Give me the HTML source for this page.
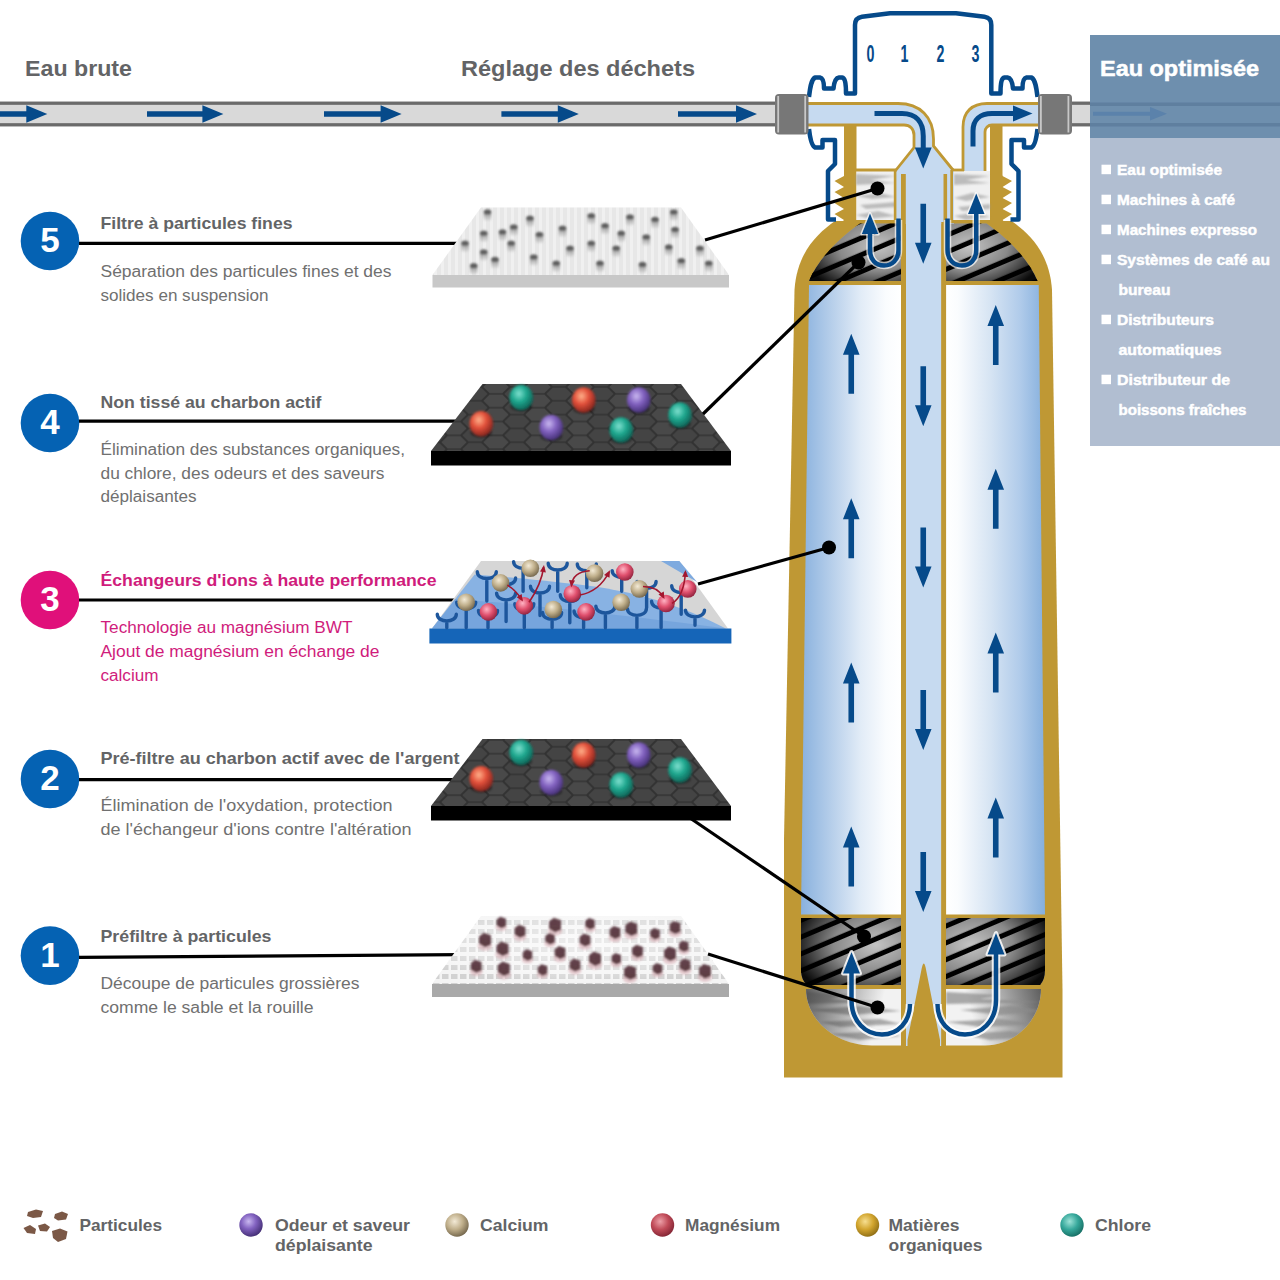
<!DOCTYPE html>
<html><head><meta charset="utf-8">
<style>
html,body{margin:0;padding:0;background:#fff;}
body{width:1280px;height:1280px;overflow:hidden;position:relative;font-family:"Liberation Sans",sans-serif;}
svg{position:absolute;left:0;top:0;}
.hd{font-weight:bold;fill:#636466;}
.ds{fill:#707070;}
.mg{fill:#d01c7c;}
.mgt{fill:#d01c7c;}
</style></head><body>
<svg width="1280" height="1280" viewBox="0 0 1280 1280" font-family="Liberation Sans, sans-serif">
<defs>
  <linearGradient id="chL" x1="0" x2="1" y1="0" y2="0">
    <stop offset="0" stop-color="#89b1de"/><stop offset="0.35" stop-color="#bdd3ec"/><stop offset="0.6" stop-color="#e2ecf7"/><stop offset="0.85" stop-color="#fafcfe"/><stop offset="1" stop-color="#ffffff"/>
  </linearGradient>
  <linearGradient id="chR" x1="0" x2="1" y1="0" y2="0">
    <stop offset="0" stop-color="#ffffff"/><stop offset="0.12" stop-color="#fafcfe"/><stop offset="0.45" stop-color="#d6e4f3"/><stop offset="0.75" stop-color="#b0cbea"/><stop offset="1" stop-color="#85afdd"/>
  </linearGradient>
</defs>

<!-- top labels -->
<text class="hd" x="25" y="76" font-size="22" textLength="107" lengthAdjust="spacingAndGlyphs">Eau brute</text>
<text class="hd" x="461" y="76" font-size="22" textLength="234" lengthAdjust="spacingAndGlyphs">Réglage des déchets</text>
<!-- inlet pipe -->
<rect x="-5" y="103.2" width="785" height="21.6" fill="#d9d9d9" stroke="#6b6b6b" stroke-width="3.3"/>
<rect x="1060" y="103.2" width="240" height="21.6" fill="#d9d9d9" stroke="#6b6b6b" stroke-width="3.3"/>
<g fill="#064a8a">
<path d="M-40 111.2H26.299999999999997V105.3L47.3 114L26.299999999999997 122.7V116.8H-40Z"/>
<path d="M147 111.2H202.4V105.3L223.4 114L202.4 122.7V116.8H147Z"/>
<path d="M324 111.2H380.6V105.3L401.6 114L380.6 122.7V116.8H324Z"/>
<path d="M501.4 111.2H557.8V105.3L578.8 114L557.8 122.7V116.8H501.4Z"/>
<path d="M678 111.2H736V105.3L757 114L736 122.7V116.8H678Z"/>
</g>
<!-- right panel -->
<rect x="1090" y="35" width="190" height="103" fill="#6e8fae" fill-opacity="1"/>
<rect x="1090" y="102.5" width="190" height="3.5" fill="#5f7f9f"/>
<rect x="1090" y="123" width="190" height="3.5" fill="#5f7f9f"/>
<path d="M1093 111.8H1150V107L1167 113.8L1150 120.5V115.8H1093Z" fill="#5b82ab"/>
<rect x="1090" y="138" width="190" height="308" fill="#b1bed1"/>
<text x="1100" y="76" font-size="22" font-weight="bold" fill="#fff" stroke="#fff" stroke-width="0.5" textLength="159" lengthAdjust="spacingAndGlyphs">Eau optimisée</text>
<rect x="1101.5" y="164.7" width="9.5" height="9.5" fill="#fff"/>
<text x="1117" y="174.7" font-size="14.5" font-weight="bold" fill="#fff" stroke="#fff" stroke-width="0.45" textLength="105" lengthAdjust="spacingAndGlyphs">Eau optimisée</text>
<rect x="1101.5" y="194.7" width="9.5" height="9.5" fill="#fff"/>
<text x="1117" y="204.7" font-size="14.5" font-weight="bold" fill="#fff" stroke="#fff" stroke-width="0.45" textLength="118" lengthAdjust="spacingAndGlyphs">Machines à café</text>
<rect x="1101.5" y="224.7" width="9.5" height="9.5" fill="#fff"/>
<text x="1117" y="234.7" font-size="14.5" font-weight="bold" fill="#fff" stroke="#fff" stroke-width="0.45" textLength="140" lengthAdjust="spacingAndGlyphs">Machines expresso</text>
<rect x="1101.5" y="254.7" width="9.5" height="9.5" fill="#fff"/>
<text x="1117" y="264.7" font-size="14.5" font-weight="bold" fill="#fff" stroke="#fff" stroke-width="0.45" textLength="153" lengthAdjust="spacingAndGlyphs">Systèmes de café au</text>
<text x="1118.5" y="294.7" font-size="14.5" font-weight="bold" fill="#fff" stroke="#fff" stroke-width="0.45" textLength="52" lengthAdjust="spacingAndGlyphs">bureau</text>
<rect x="1101.5" y="314.7" width="9.5" height="9.5" fill="#fff"/>
<text x="1117" y="324.7" font-size="14.5" font-weight="bold" fill="#fff" stroke="#fff" stroke-width="0.45" textLength="97" lengthAdjust="spacingAndGlyphs">Distributeurs</text>
<text x="1118.5" y="354.7" font-size="14.5" font-weight="bold" fill="#fff" stroke="#fff" stroke-width="0.45" textLength="103" lengthAdjust="spacingAndGlyphs">automatiques</text>
<rect x="1101.5" y="374.7" width="9.5" height="9.5" fill="#fff"/>
<text x="1117" y="384.7" font-size="14.5" font-weight="bold" fill="#fff" stroke="#fff" stroke-width="0.45" textLength="113" lengthAdjust="spacingAndGlyphs">Distributeur de</text>
<text x="1118.5" y="414.7" font-size="14.5" font-weight="bold" fill="#fff" stroke="#fff" stroke-width="0.45" textLength="128" lengthAdjust="spacingAndGlyphs">boissons fraîches</text>
<!-- items -->
<circle cx="50" cy="241" r="29.3" fill="#0562b3"/>
<text x="50" y="252.0" font-size="35" font-weight="bold" fill="#fff" text-anchor="middle">5</text>
<text class="hd" x="100.5" y="229.4" font-size="17" textLength="192" lengthAdjust="spacingAndGlyphs">Filtre à particules fines</text>
<line x1="79" y1="243.4" x2="460" y2="243.4" stroke="#000" stroke-width="3.2"/>
<text class="ds" x="100.5" y="277" font-size="16" textLength="291" lengthAdjust="spacingAndGlyphs">Séparation des particules fines et des</text>
<text class="ds" x="100.5" y="300.6" font-size="16" textLength="168" lengthAdjust="spacingAndGlyphs">solides en suspension</text>
<circle cx="50" cy="423" r="29.3" fill="#0562b3"/>
<text x="50" y="434.0" font-size="35" font-weight="bold" fill="#fff" text-anchor="middle">4</text>
<text class="hd" x="100.5" y="407.5" font-size="17" textLength="221" lengthAdjust="spacingAndGlyphs">Non tissé au charbon actif</text>
<line x1="79" y1="421.2" x2="460" y2="421.2" stroke="#000" stroke-width="3.2"/>
<text class="ds" x="100.5" y="455" font-size="16" textLength="304.5" lengthAdjust="spacingAndGlyphs">Élimination des substances organiques,</text>
<text class="ds" x="100.5" y="478.5" font-size="16" textLength="284" lengthAdjust="spacingAndGlyphs">du chlore, des odeurs et des saveurs</text>
<text class="ds" x="100.5" y="502" font-size="16" textLength="96" lengthAdjust="spacingAndGlyphs">déplaisantes</text>
<circle cx="50" cy="600" r="29.3" fill="#e0107a"/>
<text x="50" y="611.0" font-size="35" font-weight="bold" fill="#fff" text-anchor="middle">3</text>
<text class="hd mgt" x="100.5" y="585.6" font-size="17" textLength="336" lengthAdjust="spacingAndGlyphs">Échangeurs d'ions à haute performance</text>
<line x1="79" y1="600" x2="460" y2="600" stroke="#000" stroke-width="3.2"/>
<text class="mg" x="100.5" y="633" font-size="16" textLength="252" lengthAdjust="spacingAndGlyphs">Technologie au magnésium BWT</text>
<text class="mg" x="100.5" y="657" font-size="16" textLength="279" lengthAdjust="spacingAndGlyphs">Ajout de magnésium en échange de</text>
<text class="mg" x="100.5" y="680.5" font-size="16" textLength="58" lengthAdjust="spacingAndGlyphs">calcium</text>
<circle cx="50" cy="779" r="29.3" fill="#0562b3"/>
<text x="50" y="790.0" font-size="35" font-weight="bold" fill="#fff" text-anchor="middle">2</text>
<text class="hd" x="100.5" y="763.7" font-size="17" textLength="359" lengthAdjust="spacingAndGlyphs">Pré-filtre au charbon actif avec de l'argent</text>
<line x1="79" y1="779.6" x2="460" y2="779.6" stroke="#000" stroke-width="3.2"/>
<text class="ds" x="100.5" y="811" font-size="16" textLength="292" lengthAdjust="spacingAndGlyphs">Élimination de l'oxydation, protection</text>
<text class="ds" x="100.5" y="835" font-size="16" textLength="311" lengthAdjust="spacingAndGlyphs">de l'échangeur d'ions contre l'altération</text>
<circle cx="50" cy="955.6" r="29.3" fill="#0562b3"/>
<text x="50" y="966.6" font-size="35" font-weight="bold" fill="#fff" text-anchor="middle">1</text>
<text class="hd" x="100.5" y="942" font-size="17" textLength="171" lengthAdjust="spacingAndGlyphs">Préfiltre à particules</text>
<line x1="79" y1="957.3" x2="460" y2="954.6" stroke="#000" stroke-width="3.2"/>
<text class="ds" x="100.5" y="988.9" font-size="16" textLength="259" lengthAdjust="spacingAndGlyphs">Découpe de particules grossières</text>
<text class="ds" x="100.5" y="1012.5" font-size="16" textLength="213" lengthAdjust="spacingAndGlyphs">comme le sable et la rouille</text>
<!-- /items --><!-- ===== FILTER ===== -->
<defs>
  <pattern id="stripes" patternUnits="userSpaceOnUse" width="15.5" height="15.5" patternTransform="rotate(-23)">
    <rect width="15.5" height="15.5" fill="#000"/>
    <rect y="0" width="15.5" height="10.5" fill="#c4c4c4"/>
  </pattern>
  <radialGradient id="blkShade" cx="0.5" cy="0.5" r="0.6">
    <stop offset="0" stop-color="#000" stop-opacity="0"/>
    <stop offset="0.6" stop-color="#000" stop-opacity="0.25"/>
    <stop offset="1" stop-color="#000" stop-opacity="0.85"/>
  </radialGradient>
  <radialGradient id="blkShL" cx="0.75" cy="0.4" r="0.85">
    <stop offset="0" stop-color="#000" stop-opacity="0"/>
    <stop offset="0.5" stop-color="#000" stop-opacity="0.3"/>
    <stop offset="1" stop-color="#000" stop-opacity="0.95"/>
  </radialGradient>
  <radialGradient id="blkShR" cx="0.25" cy="0.4" r="0.85">
    <stop offset="0" stop-color="#000" stop-opacity="0"/>
    <stop offset="0.5" stop-color="#000" stop-opacity="0.3"/>
    <stop offset="1" stop-color="#000" stop-opacity="0.95"/>
  </radialGradient>
  <filter id="fblur" x="-20%" y="-50%" width="140%" height="200%"><feGaussianBlur stdDeviation="1.3"/></filter>
  <linearGradient id="fibShL" gradientUnits="userSpaceOnUse" x1="806" y1="989" x2="880" y2="1010"><stop offset="0" stop-color="#444" stop-opacity="0.85"/><stop offset="1" stop-color="#444" stop-opacity="0"/></linearGradient>
  <linearGradient id="fibShR" gradientUnits="userSpaceOnUse" x1="1041" y1="989" x2="970" y2="1010"><stop offset="0" stop-color="#444" stop-opacity="0.85"/><stop offset="1" stop-color="#444" stop-opacity="0"/></linearGradient>
  <linearGradient id="fibH" x1="0" x2="0" y1="0" y2="1">
    <stop offset="0" stop-color="#d8d8d8"/><stop offset="0.5" stop-color="#f2f2f2"/><stop offset="1" stop-color="#d0d0d0"/>
  </linearGradient>
</defs>
<!-- gold neck walls -->
<rect x="844" y="125" width="12.5" height="100" fill="#bf9834"/>
<rect x="990" y="125" width="12.5" height="100" fill="#bf9834"/>
<!-- threads -->
<path d="M845 174 L844 176 L834.5 181 L844 187 L834.5 192 L844 198 L834.5 203 L844 209 L834.5 214 L844 220 L842 222 L845 222Z" fill="#bf9834"/>
<path d="M1001.5 174 L1002.5 176 L1012.0 181 L1002.5 187 L1012.0 192 L1002.5 198 L1012.0 203 L1002.5 209 L1012.0 214 L1002.5 220 L1004.5 222 L1001.5 222Z" fill="#bf9834"/>
<!-- body silhouette -->
<path d="M835 221 C818 233 797 252 794.5 290 L784 840 L784 1077.5 L1062.5 1077.5 L1062.5 990 L1052 290 C1049.5 252 1028.5 233 1011.5 221 Z" fill="#bf9834"/>
<!-- fibrous top -->
<rect x="856.5" y="171" width="39.5" height="50" fill="#f0f0f0"/>
<rect x="953.5" y="171" width="36.5" height="50" fill="#f0f0f0"/>
<g fill="#9a9a9a" filter="url(#fblur)" opacity="0.6">
<path d="M856 174 L896 176 L870 180 L896 183 L856 185Z"/>
<path d="M856 196 L880 193 L896 197 L872 199Z"/>
<path d="M860 205 L896 202 L896 207 L866 209Z"/>
<path d="M856 215 L878 211 L896 216 L870 219Z"/>
<path d="M954 174 L990 176 L966 180 L990 183 L954 185Z"/>
<path d="M954 198 L972 193 L990 197 L966 201Z"/>
<path d="M958 207 L990 204 L990 209 L962 211Z"/>
<path d="M954 216 L976 212 L990 217 L966 220Z"/>
</g>
<!-- central top light blue -->
<rect x="896" y="168" width="58" height="56" fill="#c6daf0"/>
<!-- black top sections -->
<path d="M860 223.5 H901 V281 H809 C818 258 842 236 860 223.5Z" fill="url(#stripes)"/>
<path d="M860 223.5 H901 V281 H809 C818 258 842 236 860 223.5Z" fill="url(#blkShL)"/>
<path d="M946 223.5 H986.5 C1004.5 236 1028.5 258 1037.5 281 H946Z" fill="url(#stripes)"/>
<path d="M946 223.5 H986.5 C1004.5 236 1028.5 258 1037.5 281 H946Z" fill="url(#blkShR)"/>
<!-- chambers -->
<path d="M809 285 H901 V914.5 H801 Z" fill="url(#chL)"/>
<path d="M946 285 H1038.75 L1045 914.5 H946 Z" fill="url(#chR)"/>
<!-- central tube -->
<rect x="906" y="222" width="35.5" height="824" fill="#c6daf0"/>
<rect x="901" y="174" width="4.8" height="872" fill="#bf9834"/>
<rect x="941.3" y="222" width="4.8" height="824" fill="#bf9834"/>
<rect x="943.5" y="174" width="3.6" height="50" fill="#bf9834"/>
<rect x="893.8" y="169" width="2.6" height="54" fill="#bf9834"/>
<rect x="950.3" y="169" width="2.7" height="54" fill="#bf9834"/>
<!-- bottom black -->
<path d="M801 918 H901 V985 H807 Q801 980 801 970Z" fill="url(#stripes)"/>
<path d="M801 918 H901 V985 H807 Q801 980 801 970Z" fill="url(#blkShL)"/>
<path d="M946 918 H1045 V970 Q1045 980 1040 985 H946Z" fill="url(#stripes)"/>
<path d="M946 918 H1045 V970 Q1045 980 1040 985 H946Z" fill="url(#blkShR)"/>
<!-- bottom fibrous -->
<clipPath id="fibBL"><path d="M806 989 H901 V1045.5 H872 C836 1045.5 806 1020 806 989Z"/></clipPath>
<clipPath id="fibBR"><path d="M946 989 H1041 C1041 1020 1015 1045.5 985 1045.5 H946Z"/></clipPath>
<path d="M806 989 H901 V1045.5 H872 C836 1045.5 806 1020 806 989Z" fill="#f2f2f2"/>
<path d="M946 989 H1041 C1041 1020 1015 1045.5 985 1045.5 H946Z" fill="#f2f2f2"/>
<g fill="#8a8a8a" filter="url(#fblur)" opacity="0.7" clip-path="url(#fibBL)">
<path d="M800 991 L850 995 L830 999 L880 1002 L800 1004Z"/>
<path d="M810 1010 L860 1006 L901 1011 L850 1015Z"/>
<path d="M820 1022 L880 1019 L901 1024 L840 1027Z"/>
<path d="M830 1034 L880 1031 L901 1036 L860 1040Z"/>
</g>
<path d="M806 989 H901 V1045.5 H872 C836 1045.5 806 1020 806 989Z" fill="url(#fibShL)"/>
<path d="M946 989 H1041 C1041 1020 1015 1045.5 985 1045.5 H946Z" fill="url(#fibShR)"/>
<g fill="#8a8a8a" filter="url(#fblur)" opacity="0.7" clip-path="url(#fibBR)">
<path d="M946 992 L1000 995 L980 999 L1045 1002 L946 1004Z"/>
<path d="M960 1010 L1010 1006 L1045 1011 L1000 1015Z"/>
<path d="M946 1022 L1000 1019 L1040 1024 L980 1027Z"/>
<path d="M960 1034 L1010 1031 L1040 1036 L990 1040Z"/>
</g>
<!-- spike -->
<path d="M907.5 1046 V1040 L921 972 Q923.75 955 926.5 972 L940 1040 V1046Z" fill="#bf9834"/>

<!-- left channel -->
<path d="M806 103.5 H898 C920 103.5 933.5 117 933.5 139 V146 L953 170 H896 L914 147.5 V135 C914 129 910 125 904 125 H806Z" fill="#c6daf0"/>
<path d="M806 103.5 H898 C920 103.5 933.5 117 933.5 139 V146 L953 170 M896 170 L914 147.5 V135 C914 129 910 125 904 125 H806" fill="none" stroke="#bf9834" stroke-width="2.8"/>
<line x1="856" y1="170" x2="897" y2="170" stroke="#bf9834" stroke-width="2.8"/>
<line x1="952" y1="170" x2="964" y2="170" stroke="#bf9834" stroke-width="2.8"/>
<line x1="856" y1="221.5" x2="901" y2="221.5" stroke="#bf9834" stroke-width="3"/>
<line x1="946" y1="221.5" x2="990" y2="221.5" stroke="#bf9834" stroke-width="3"/>
<!-- right channel -->
<path d="M1040 103.5 H987 C972 103.5 963 112 963 127 V171 H985 V132 C985 128 988 125 992 125 H1040Z" fill="#c6daf0"/>
<path d="M1040 103.5 H987 C972 103.5 963 112 963 127 V171 M985 171 V132 C985 128 988 125 992 125 H1040" fill="none" stroke="#bf9834" stroke-width="2.8"/>

<!-- navy cap -->
<path d="M809 97 C810 88 811 80 815 77.5 H820 C823 78 824 83 824 88.5 H833.5 C834 83 835 78 839 77.5 H842 C845 78 846 83 846 93.5 H855 V25 Q855 17.8 862 16.8 L890 13.2 H956 L984.5 16.8 Q991.3 17.8 991.3 25 V93.5 H1000.5 C1000.5 83 1001.5 78 1004.5 77.5 H1007.5 C1011.5 78 1012.5 83 1013 88.5 H1022.5 C1022.5 83 1023.5 78 1026.5 77.5 H1031.5 C1035.5 80 1036.5 88 1037.5 97" fill="none" stroke="#064a8a" stroke-width="4.5" stroke-linejoin="round"/>
<path d="M809 129 C810 138 812 146 815 147.5 H822.5 V140 H835 V164 L828 171 V219.5 H836" fill="none" stroke="#064a8a" stroke-width="4.5" stroke-linejoin="round"/>
<path d="M1037.5 129 C1036.5 138 1034.5 146 1031.5 147.5 H1024 V140 H1011.5 V164 L1018.5 171 V219.5 H1010.5" fill="none" stroke="#064a8a" stroke-width="4.5" stroke-linejoin="round"/>
<g fill="#064a8a" font-size="23" font-weight="bold" font-family="Liberation Sans, sans-serif">
<text transform="translate(866.5 61.5) scale(0.62 1)">0</text>
<text transform="translate(900.5 61.5) scale(0.62 1)">1</text>
<text transform="translate(936.5 61.5) scale(0.62 1)">2</text>
<text transform="translate(971.5 61.5) scale(0.62 1)">3</text>
</g>
<!-- fittings -->
<rect x="775" y="94" width="33.5" height="40.5" rx="4" fill="#777"/>
<rect x="777.3" y="96" width="1.8" height="36.5" fill="#c8c8c8"/>
<rect x="804.3" y="96" width="1.8" height="36.5" fill="#c8c8c8"/>
<rect x="1038" y="94" width="34" height="40.5" rx="4" fill="#777"/>
<rect x="1040" y="96" width="1.8" height="36.5" fill="#c8c8c8"/>
<rect x="1067.5" y="96" width="1.8" height="36.5" fill="#c8c8c8"/>
<!-- arrows -->
<g fill="#064a8a">
<path d="M851.25 333.75 L859.55 354.75 H854.05 V393.75 H848.45 V354.75 H842.95 Z"/>
<path d="M851.25 498.25 L859.55 519.25 H854.05 V558.25 H848.45 V519.25 H842.95 Z"/>
<path d="M851.25 662.5 L859.55 683.5 H854.05 V722.5 H848.45 V683.5 H842.95 Z"/>
<path d="M851.25 826.5 L859.55 847.5 H854.05 V886.5 H848.45 V847.5 H842.95 Z"/>
<path d="M995.75 305 L1004.05 326 H998.55 V365 H992.95 V326 H987.45 Z"/>
<path d="M995.75 468.75 L1004.05 489.75 H998.55 V528.75 H992.95 V489.75 H987.45 Z"/>
<path d="M995.75 632.5 L1004.05 653.5 H998.55 V692.5 H992.95 V653.5 H987.45 Z"/>
<path d="M995.75 797.5 L1004.05 818.5 H998.55 V857.5 H992.95 V818.5 H987.45 Z"/>
<path d="M923.25 263.75 L931.55 242.75 H926.05 V203.75 H920.45 V242.75 H914.95 Z"/>
<path d="M923.25 426.25 L931.55 405.25 H926.05 V366.25 H920.45 V405.25 H914.95 Z"/>
<path d="M923.25 587.5 L931.55 566.5 H926.05 V527.5 H920.45 V566.5 H914.95 Z"/>
<path d="M923.25 750 L931.55 729 H926.05 V690 H920.45 V729 H914.95 Z"/>
<path d="M923.25 912 L931.55 891 H926.05 V852 H920.45 V891 H914.95 Z"/>
</g>
<path d="M874.5 113.5 H902 C916 113.5 923.25 122 923.25 136 V150" fill="none" stroke="#064a8a" stroke-width="5"/>
<path d="M914.8 147.5 H931.7 L923.25 168.5Z" fill="#064a8a"/>
<path d="M973 146.5 V131 C973 120 980 113.5 992 113.5 H1015" fill="none" stroke="#064a8a" stroke-width="5"/>
<path d="M1013 105.5 V121.5 L1032.5 113.5Z" fill="#064a8a"/>
<path d="M870 231 V250 C870 260 876 265.5 884 265.5 C892 265.5 898.5 260 898.5 250 V220" fill="none" stroke="#fff" stroke-opacity="0.7" stroke-width="7.5"/>
<path d="M976.25 211 V250 C976.25 260 970 265.5 962 265.5 C954 265.5 947.5 260 947.5 250 V220" fill="none" stroke="#fff" stroke-opacity="0.7" stroke-width="7.5"/>
<path d="M861.8 234 H878.3 L870 213.5Z" fill="#fff" stroke="#fff" stroke-opacity="0.7" stroke-width="3" stroke-linejoin="round"/>
<path d="M968 214 H984.5 L976.25 193.5Z" fill="#fff" stroke="#fff" stroke-opacity="0.7" stroke-width="3" stroke-linejoin="round"/>
<path d="M870 231 V250 C870 260 876 265.5 884 265.5 C892 265.5 898.5 260 898.5 250 V218.5" fill="none" stroke="#064a8a" stroke-width="4.5"/>
<path d="M861.8 234 H878.3 L870 213.5Z" fill="#064a8a"/>
<path d="M976.25 211 V250 C976.25 260 970 265.5 962 265.5 C954 265.5 947.5 260 947.5 250 V218.5" fill="none" stroke="#064a8a" stroke-width="4.5"/>
<path d="M968 214 H984.5 L976.25 193.5Z" fill="#064a8a"/>
<path d="M851.5 970 V1000 C851.5 1022 866 1034.5 882 1034.5 C898 1034.5 910 1022 910 1004" fill="none" stroke="#fff" stroke-opacity="0.85" stroke-width="8.5"/>
<path d="M996 951 V1000 C996 1022 981 1034.5 965 1034.5 C949 1034.5 937.5 1022 937.5 1004" fill="none" stroke="#fff" stroke-opacity="0.85" stroke-width="8.5"/>
<path d="M843 973.5 H860 L851.5 952Z" fill="#fff" stroke="#fff" stroke-opacity="0.85" stroke-width="4" stroke-linejoin="round"/>
<path d="M987.5 954.5 H1004.5 L996 933Z" fill="#fff" stroke="#fff" stroke-opacity="0.85" stroke-width="4" stroke-linejoin="round"/>
<path d="M851.5 970 V1000 C851.5 1022 866 1034.5 882 1034.5 C898 1034.5 910 1022 910 1004" fill="none" stroke="#064a8a" stroke-width="4.5"/>
<path d="M996 951 V1000 C996 1022 981 1034.5 965 1034.5 C949 1034.5 937.5 1022 937.5 1004" fill="none" stroke="#064a8a" stroke-width="4.5"/>
<path d="M843 973.5 H860 L851.5 952Z" fill="#064a8a"/>
<path d="M987.5 954.5 H1004.5 L996 933Z" fill="#064a8a"/>
<!-- ===== MEDIA ===== -->
<defs>
<linearGradient id="m5top" x1="0" x2="0" y1="0" y2="1"><stop offset="0" stop-color="#e6e6e6"/><stop offset="1" stop-color="#d9d9d9"/></linearGradient>
<pattern id="ridge" patternUnits="userSpaceOnUse" width="7" height="10"><rect width="7" height="10" fill="#e3e3e3"/><rect x="0" width="3" height="10" fill="#eeeeee"/></pattern>
<linearGradient id="pfade" x1="0" x2="0" y1="0" y2="1"><stop offset="0" stop-color="#6a6a6a" stop-opacity="0.9"/><stop offset="1" stop-color="#9a9a9a" stop-opacity="0.15"/></linearGradient>
<pattern id="hex" patternUnits="userSpaceOnUse" width="30" height="17.3" patternTransform="translate(440 380) scale(1.4 0.8)">
 <rect width="30" height="17.3" fill="#3a3a3a"/>
 <path d="M1 8.65 L5.5 1 H14.5 L19 8.65 L14.5 16.3 H5.5Z" fill="#545454"/>
 <path d="M16 -0.0 L20.5 -7.65 H29.5 L34 0 L29.5 7.65 H20.5Z" fill="#4e4e4e"/>
 <path d="M16 17.3 L20.5 9.65 H29.5 L34 17.3 L29.5 24.95 H20.5Z" fill="#4e4e4e"/>
 <path d="M-14 0 L-9.5 -7.65 H-0.5 L4 0 L-0.5 7.65 H-9.5Z" fill="#4e4e4e"/>
 <path d="M-14 17.3 L-9.5 9.65 H-0.5 L4 17.3 L-0.5 24.95 H-9.5Z" fill="#4e4e4e"/>
</pattern>
<pattern id="grid" patternUnits="userSpaceOnUse" width="9" height="9"><rect width="9" height="9" fill="#f4f4f4"/><rect x="1" y="2" width="6.5" height="5" fill="#d2d2d2"/></pattern>
<radialGradient id="sTeal" cx="0.4" cy="0.35" r="0.7"><stop offset="0" stop-color="#7fe0cf"/><stop offset="0.45" stop-color="#1fa88f"/><stop offset="1" stop-color="#0b5a4f"/></radialGradient>
<radialGradient id="sRed" cx="0.4" cy="0.35" r="0.7"><stop offset="0" stop-color="#ffb08a"/><stop offset="0.45" stop-color="#e2503a"/><stop offset="1" stop-color="#7a1f1a"/></radialGradient>
<radialGradient id="sPur" cx="0.4" cy="0.35" r="0.7"><stop offset="0" stop-color="#c9b8f0"/><stop offset="0.45" stop-color="#8262c0"/><stop offset="1" stop-color="#3e2a6e"/></radialGradient>
<radialGradient id="sTan" cx="0.4" cy="0.35" r="0.7"><stop offset="0" stop-color="#f3ead6"/><stop offset="0.5" stop-color="#bfae8a"/><stop offset="1" stop-color="#6e6148"/></radialGradient>
<radialGradient id="sPink" cx="0.4" cy="0.35" r="0.7"><stop offset="0" stop-color="#ffb3c3"/><stop offset="0.5" stop-color="#e0506e"/><stop offset="1" stop-color="#8a1f3a"/></radialGradient>
<radialGradient id="sGold" cx="0.4" cy="0.35" r="0.7"><stop offset="0" stop-color="#f7df90"/><stop offset="0.5" stop-color="#d2a52e"/><stop offset="1" stop-color="#8a6a14"/></radialGradient>
<radialGradient id="m1glow" cx="0.5" cy="0.4" r="0.6"><stop offset="0" stop-color="#fff" stop-opacity="0.6"/><stop offset="0.7" stop-color="#fff" stop-opacity="0.3"/><stop offset="1" stop-color="#fff" stop-opacity="0"/></radialGradient>
<filter id="blur1" x="-50%" y="-50%" width="200%" height="200%"><feGaussianBlur stdDeviation="1.1"/></filter>
<filter id="blur08" x="-50%" y="-50%" width="200%" height="200%"><feGaussianBlur stdDeviation="0.9"/></filter>
<filter id="blur05" x="-50%" y="-50%" width="200%" height="200%"><feGaussianBlur stdDeviation="0.6"/></filter>
</defs>
<path d="M481 207.5 H681 L729 275 H432.5Z" fill="url(#ridge)"/>
<path d="M481 207.5 H681 L729 275 H432.5Z" fill="#fff" fill-opacity="0.15"/>
<rect x="432.5" y="275" width="296.5" height="12.5" fill="#c8c8c8"/>
<g filter="url(#blur1)">
<rect x="483.7" y="210.75" width="7.6" height="10" rx="2" fill="url(#pfade)"/><ellipse cx="487.5" cy="211.75" rx="3.8" ry="2.6" fill="#505050" fill-opacity="0.8"/>
<rect x="526.2" y="217" width="7.6" height="10" rx="2" fill="url(#pfade)"/><ellipse cx="530" cy="218" rx="3.8" ry="2.6" fill="#505050" fill-opacity="0.8"/>
<rect x="587.45" y="214.5" width="7.6" height="10" rx="2" fill="url(#pfade)"/><ellipse cx="591.25" cy="215.5" rx="3.8" ry="2.6" fill="#505050" fill-opacity="0.8"/>
<rect x="626.2" y="215.75" width="7.6" height="10" rx="2" fill="url(#pfade)"/><ellipse cx="630" cy="216.75" rx="3.8" ry="2.6" fill="#505050" fill-opacity="0.8"/>
<rect x="669.95" y="210.75" width="7.6" height="10" rx="2" fill="url(#pfade)"/><ellipse cx="673.75" cy="211.75" rx="3.8" ry="2.6" fill="#505050" fill-opacity="0.8"/>
<rect x="479.95" y="232" width="7.6" height="10" rx="2" fill="url(#pfade)"/><ellipse cx="483.75" cy="233" rx="3.8" ry="2.6" fill="#505050" fill-opacity="0.8"/>
<rect x="498.7" y="230.75" width="7.6" height="10" rx="2" fill="url(#pfade)"/><ellipse cx="502.5" cy="231.75" rx="3.8" ry="2.6" fill="#505050" fill-opacity="0.8"/>
<rect x="509.95" y="225.75" width="7.6" height="10" rx="2" fill="url(#pfade)"/><ellipse cx="513.75" cy="226.75" rx="3.8" ry="2.6" fill="#505050" fill-opacity="0.8"/>
<rect x="535.7" y="233.25" width="7.6" height="10" rx="2" fill="url(#pfade)"/><ellipse cx="539.5" cy="234.25" rx="3.8" ry="2.6" fill="#505050" fill-opacity="0.8"/>
<rect x="558.7" y="227" width="7.6" height="10" rx="2" fill="url(#pfade)"/><ellipse cx="562.5" cy="228" rx="3.8" ry="2.6" fill="#505050" fill-opacity="0.8"/>
<rect x="601.2" y="224.5" width="7.6" height="10" rx="2" fill="url(#pfade)"/><ellipse cx="605" cy="225.5" rx="3.8" ry="2.6" fill="#505050" fill-opacity="0.8"/>
<rect x="617.45" y="232" width="7.6" height="10" rx="2" fill="url(#pfade)"/><ellipse cx="621.25" cy="233" rx="3.8" ry="2.6" fill="#505050" fill-opacity="0.8"/>
<rect x="651.2" y="218.25" width="7.6" height="10" rx="2" fill="url(#pfade)"/><ellipse cx="655" cy="219.25" rx="3.8" ry="2.6" fill="#505050" fill-opacity="0.8"/>
<rect x="671.2" y="228.25" width="7.6" height="10" rx="2" fill="url(#pfade)"/><ellipse cx="675" cy="229.25" rx="3.8" ry="2.6" fill="#505050" fill-opacity="0.8"/>
<rect x="461.2" y="242" width="7.6" height="10" rx="2" fill="url(#pfade)"/><ellipse cx="465" cy="243" rx="3.8" ry="2.6" fill="#505050" fill-opacity="0.8"/>
<rect x="507.45" y="242" width="7.6" height="10" rx="2" fill="url(#pfade)"/><ellipse cx="511.25" cy="243" rx="3.8" ry="2.6" fill="#505050" fill-opacity="0.8"/>
<rect x="566.2" y="247" width="7.6" height="10" rx="2" fill="url(#pfade)"/><ellipse cx="570" cy="248" rx="3.8" ry="2.6" fill="#505050" fill-opacity="0.8"/>
<rect x="587.45" y="242" width="7.6" height="10" rx="2" fill="url(#pfade)"/><ellipse cx="591.25" cy="243" rx="3.8" ry="2.6" fill="#505050" fill-opacity="0.8"/>
<rect x="612.45" y="247" width="7.6" height="10" rx="2" fill="url(#pfade)"/><ellipse cx="616.25" cy="248" rx="3.8" ry="2.6" fill="#505050" fill-opacity="0.8"/>
<rect x="642.45" y="235.75" width="7.6" height="10" rx="2" fill="url(#pfade)"/><ellipse cx="646.25" cy="236.75" rx="3.8" ry="2.6" fill="#505050" fill-opacity="0.8"/>
<rect x="664.95" y="245.75" width="7.6" height="10" rx="2" fill="url(#pfade)"/><ellipse cx="668.75" cy="246.75" rx="3.8" ry="2.6" fill="#505050" fill-opacity="0.8"/>
<rect x="696.2" y="247" width="7.6" height="10" rx="2" fill="url(#pfade)"/><ellipse cx="700" cy="248" rx="3.8" ry="2.6" fill="#505050" fill-opacity="0.8"/>
<rect x="479.95" y="250.75" width="7.6" height="10" rx="2" fill="url(#pfade)"/><ellipse cx="483.75" cy="251.75" rx="3.8" ry="2.6" fill="#505050" fill-opacity="0.8"/>
<rect x="491.2" y="258.25" width="7.6" height="10" rx="2" fill="url(#pfade)"/><ellipse cx="495" cy="259.25" rx="3.8" ry="2.6" fill="#505050" fill-opacity="0.8"/>
<rect x="529.95" y="255.75" width="7.6" height="10" rx="2" fill="url(#pfade)"/><ellipse cx="533.75" cy="256.75" rx="3.8" ry="2.6" fill="#505050" fill-opacity="0.8"/>
<rect x="552.45" y="262" width="7.6" height="10" rx="2" fill="url(#pfade)"/><ellipse cx="556.25" cy="263" rx="3.8" ry="2.6" fill="#505050" fill-opacity="0.8"/>
<rect x="596.2" y="262" width="7.6" height="10" rx="2" fill="url(#pfade)"/><ellipse cx="600" cy="263" rx="3.8" ry="2.6" fill="#505050" fill-opacity="0.8"/>
<rect x="638.7" y="263.25" width="7.6" height="10" rx="2" fill="url(#pfade)"/><ellipse cx="642.5" cy="264.25" rx="3.8" ry="2.6" fill="#505050" fill-opacity="0.8"/>
<rect x="677.45" y="259.5" width="7.6" height="10" rx="2" fill="url(#pfade)"/><ellipse cx="681.25" cy="260.5" rx="3.8" ry="2.6" fill="#505050" fill-opacity="0.8"/>
<rect x="704.95" y="262" width="7.6" height="10" rx="2" fill="url(#pfade)"/><ellipse cx="708.75" cy="263" rx="3.8" ry="2.6" fill="#505050" fill-opacity="0.8"/>
<rect x="469.95" y="264.5" width="7.6" height="10" rx="2" fill="url(#pfade)"/><ellipse cx="473.75" cy="265.5" rx="3.8" ry="2.6" fill="#505050" fill-opacity="0.8"/>
</g>
<path d="M482.5 384 H681 L731 451 H431Z" fill="url(#hex)"/>
<path d="M482.5 384 H681 L731 451 H431Z" fill="#000" fill-opacity="0.12"/>
<rect x="431" y="451" width="300" height="14.5" fill="#000"/>
<ellipse cx="521.25" cy="406.5" rx="11" ry="5" fill="#000" fill-opacity="0.35" filter="url(#blur1)"/>
<ellipse cx="521.25" cy="397.5" rx="11.8" ry="12.8" fill="url(#sTeal)" filter="url(#blur08)"/>
<ellipse cx="583.75" cy="409" rx="11" ry="5" fill="#000" fill-opacity="0.35" filter="url(#blur1)"/>
<ellipse cx="583.75" cy="400" rx="11.8" ry="12.8" fill="url(#sRed)" filter="url(#blur08)"/>
<ellipse cx="638.75" cy="409" rx="11" ry="5" fill="#000" fill-opacity="0.35" filter="url(#blur1)"/>
<ellipse cx="638.75" cy="400" rx="11.8" ry="12.8" fill="url(#sPur)" filter="url(#blur08)"/>
<ellipse cx="481.25" cy="432.75" rx="11" ry="5" fill="#000" fill-opacity="0.35" filter="url(#blur1)"/>
<ellipse cx="481.25" cy="423.75" rx="11.8" ry="12.8" fill="url(#sRed)" filter="url(#blur08)"/>
<ellipse cx="551.25" cy="436.5" rx="11" ry="5" fill="#000" fill-opacity="0.35" filter="url(#blur1)"/>
<ellipse cx="551.25" cy="427.5" rx="11.8" ry="12.8" fill="url(#sPur)" filter="url(#blur08)"/>
<ellipse cx="621.25" cy="439" rx="11" ry="5" fill="#000" fill-opacity="0.35" filter="url(#blur1)"/>
<ellipse cx="621.25" cy="430" rx="11.8" ry="12.8" fill="url(#sTeal)" filter="url(#blur08)"/>
<ellipse cx="680" cy="424" rx="11" ry="5" fill="#000" fill-opacity="0.35" filter="url(#blur1)"/>
<ellipse cx="680" cy="415" rx="11.8" ry="12.8" fill="url(#sTeal)" filter="url(#blur08)"/>
<path d="M482.5 739 H681 L731 806 H431Z" fill="url(#hex)"/>
<path d="M482.5 739 H681 L731 806 H431Z" fill="#000" fill-opacity="0.12"/>
<rect x="431" y="806" width="300" height="14.5" fill="#000"/>
<ellipse cx="521.25" cy="761.5" rx="11" ry="5" fill="#000" fill-opacity="0.35" filter="url(#blur1)"/>
<ellipse cx="521.25" cy="752.5" rx="11.8" ry="12.8" fill="url(#sTeal)" filter="url(#blur08)"/>
<ellipse cx="583.75" cy="764" rx="11" ry="5" fill="#000" fill-opacity="0.35" filter="url(#blur1)"/>
<ellipse cx="583.75" cy="755" rx="11.8" ry="12.8" fill="url(#sRed)" filter="url(#blur08)"/>
<ellipse cx="638.75" cy="764" rx="11" ry="5" fill="#000" fill-opacity="0.35" filter="url(#blur1)"/>
<ellipse cx="638.75" cy="755" rx="11.8" ry="12.8" fill="url(#sPur)" filter="url(#blur08)"/>
<ellipse cx="481.25" cy="787.75" rx="11" ry="5" fill="#000" fill-opacity="0.35" filter="url(#blur1)"/>
<ellipse cx="481.25" cy="778.75" rx="11.8" ry="12.8" fill="url(#sRed)" filter="url(#blur08)"/>
<ellipse cx="551.25" cy="791.5" rx="11" ry="5" fill="#000" fill-opacity="0.35" filter="url(#blur1)"/>
<ellipse cx="551.25" cy="782.5" rx="11.8" ry="12.8" fill="url(#sPur)" filter="url(#blur08)"/>
<ellipse cx="621.25" cy="794" rx="11" ry="5" fill="#000" fill-opacity="0.35" filter="url(#blur1)"/>
<ellipse cx="621.25" cy="785" rx="11.8" ry="12.8" fill="url(#sTeal)" filter="url(#blur08)"/>
<ellipse cx="680" cy="779" rx="11" ry="5" fill="#000" fill-opacity="0.35" filter="url(#blur1)"/>
<ellipse cx="680" cy="770" rx="11.8" ry="12.8" fill="url(#sTeal)" filter="url(#blur08)"/>
<path d="M481 561 H679.3 L728 628.5 H432Z" fill="#d6d6d6"/>
<path d="M432 628.5 L474.6 574.4 C520 578 560 582 594.5 586.5 C630 592 650 598 667 603.4 C690 611 710 620 726 628.5Z" fill="#88b2e3"/>
<path d="M432 628.5 L455 599 C520 604 600 612 726 628.5Z" fill="#6b9dd8" fill-opacity="0.6"/>
<path d="M661 561 H679.3 L697 582Z" fill="#7eaadf"/>
<rect x="429.4" y="628.5" width="302" height="15" fill="#1565b8"/>
<path d="M446.8 627.7 V621.2 M437.3 614.2 C437.3 623.2 456.3 623.2 456.3 614.2" fill="none" stroke="#1d569c" stroke-width="3.4" stroke-linecap="round"/>
<path d="M466.2 627.7 V609.1 M456.7 602.1 C456.7 611.1 475.7 611.1 475.7 602.1" fill="none" stroke="#1d569c" stroke-width="3.4" stroke-linecap="round"/>
<path d="M488.0 627.7 V617.5 M478.5 610.5 C478.5 619.5 497.5 619.5 497.5 610.5" fill="none" stroke="#1d569c" stroke-width="3.4" stroke-linecap="round"/>
<path d="M506.1 621.6 V600.1 M496.6 593.1 C496.6 602.1 515.6 602.1 515.6 593.1" fill="none" stroke="#1d569c" stroke-width="3.4" stroke-linecap="round"/>
<path d="M524.3 627.7 V610.8 M514.8 603.8 C514.8 612.8 533.8 612.8 533.8 603.8" fill="none" stroke="#1d569c" stroke-width="3.4" stroke-linecap="round"/>
<path d="M540.0 615.5 V593.3 M530.5 586.3 C530.5 595.3 549.5 595.3 549.5 586.3" fill="none" stroke="#1d569c" stroke-width="3.4" stroke-linecap="round"/>
<path d="M552.1 627.7 V619.5 M542.6 612.5 C542.6 621.5 561.6 621.5 561.6 612.5" fill="none" stroke="#1d569c" stroke-width="3.4" stroke-linecap="round"/>
<path d="M569.8 622.8 V601.8 M560.3 594.8 C560.3 603.8 579.3 603.8 579.3 594.8" fill="none" stroke="#1d569c" stroke-width="3.4" stroke-linecap="round"/>
<path d="M583.6 627.7 V618.0 M574.1 611.0 C574.1 620.0 593.1 620.0 593.1 611.0" fill="none" stroke="#1d569c" stroke-width="3.4" stroke-linecap="round"/>
<path d="M605.4 627.7 V613.2 M595.9 606.2 C595.9 615.2 614.9 615.2 614.9 606.2" fill="none" stroke="#1d569c" stroke-width="3.4" stroke-linecap="round"/>
<path d="M636.9 627.7 V615.6 M627.4 608.6 C627.4 617.6 646.4 617.6 646.4 608.6" fill="none" stroke="#1d569c" stroke-width="3.4" stroke-linecap="round"/>
<path d="M661.1 627.7 V608.3 M651.6 601.3 C651.6 610.3 670.6 610.3 670.6 601.3" fill="none" stroke="#1d569c" stroke-width="3.4" stroke-linecap="round"/>
<path d="M695.0 625.2 V617.1 M685.5 610.1 C685.5 619.1 704.5 619.1 704.5 610.1" fill="none" stroke="#1d569c" stroke-width="3.4" stroke-linecap="round"/>
<path d="M486.8 601.0 V578.8 M477.3 571.8 C477.3 580.8 496.3 580.8 496.3 571.8" fill="none" stroke="#1d569c" stroke-width="3.4" stroke-linecap="round"/>
<path d="M523.1 591.3 V568.6 M513.6 561.6 C513.6 570.6 532.6 570.6 532.6 561.6" fill="none" stroke="#1d569c" stroke-width="3.4" stroke-linecap="round"/>
<path d="M557.7 591.3 V570.3 M548.2 563.3 C548.2 572.3 567.2 572.3 567.2 563.3" fill="none" stroke="#1d569c" stroke-width="3.4" stroke-linecap="round"/>
<path d="M586.8 587.7 V571.0 M577.3 564.0 C577.3 573.0 596.3 573.0 596.3 564.0" fill="none" stroke="#1d569c" stroke-width="3.4" stroke-linecap="round"/>
<path d="M621.7 591.3 V577.6 M612.2 570.6 C612.2 579.6 631.2 579.6 631.2 570.6" fill="none" stroke="#1d569c" stroke-width="3.4" stroke-linecap="round"/>
<path d="M646.6 607.8 V588.5 M637.1 581.5 C637.1 590.5 656.1 590.5 656.1 581.5" fill="none" stroke="#1d569c" stroke-width="3.4" stroke-linecap="round"/>
<path d="M681.2 614.3 V592.8 M671.7 585.8 C671.7 594.8 690.7 594.8 690.7 585.8" fill="none" stroke="#1d569c" stroke-width="3.4" stroke-linecap="round"/>
<path d="M506.1 586.5 V584.9 M496.6 577.9 C496.6 586.9 515.6 586.9 515.6 577.9" fill="none" stroke="#1d569c" stroke-width="3.4" stroke-linecap="round"/>
<circle cx="466.1721966577864" cy="602.226931460402" r="8.8" fill="url(#sTan)"/>
<circle cx="488.453620731412" cy="611.9145071445871" r="8.8" fill="url(#sPink)"/>
<circle cx="524.2976507628966" cy="605.8597723419714" r="8.8" fill="url(#sPink)"/>
<circle cx="500.56309033664326" cy="582.851780092032" r="8.8" fill="url(#sTan)"/>
<circle cx="530.3523855655122" cy="568.3204165657544" r="8.8" fill="url(#sTan)"/>
<circle cx="553.3603778154517" cy="609.4926132235408" r="8.8" fill="url(#sTan)"/>
<circle cx="572.2511503996125" cy="593.7503027367401" r="8.8" fill="url(#sPink)"/>
<circle cx="586.0559457495762" cy="611.9145071445871" r="8.8" fill="url(#sPink)"/>
<circle cx="594.5325744732381" cy="573.1642044078469" r="8.8" fill="url(#sTan)"/>
<circle cx="624.8062484863163" cy="571.9532574473238" r="8.8" fill="url(#sPink)"/>
<circle cx="621.1734076047469" cy="602.226931460402" r="8.8" fill="url(#sTan)"/>
<circle cx="639.3376120125938" cy="588.9065148946477" r="8.8" fill="url(#sTan)"/>
<circle cx="665.9784451441027" cy="603.4378784209251" r="8.8" fill="url(#sPink)"/>
<circle cx="687.775490433519" cy="588.9065148946477" r="8.8" fill="url(#sPink)"/>
<path d="M507.3 585.3 Q514.6 588.9 521.9 599.8" fill="none" stroke="#a3162e" stroke-width="1.6"/>
<path d="M523.0 601.5 L516.6 597.3 L521.6 594.0Z" fill="#a3162e"/>
<path d="M529.1 602.2 Q541.3 584.1 543.7 567.1" fill="none" stroke="#a3162e" stroke-width="1.6"/>
<path d="M544.0 565.1 L545.9 572.5 L540.0 571.6Z" fill="#a3162e"/>
<path d="M589.7 570.7 Q572.7 572.0 571.5 585.3" fill="none" stroke="#a3162e" stroke-width="1.6"/>
<path d="M571.3 587.3 L569.0 580.0 L575.0 580.6Z" fill="#a3162e"/>
<path d="M580.0 595.0 Q599.4 591.3 609.1 572.0" fill="none" stroke="#a3162e" stroke-width="1.6"/>
<path d="M610.0 570.2 L609.5 577.8 L604.1 575.1Z" fill="#a3162e"/>
<path d="M643.0 586.5 Q657.5 586.5 663.6 597.4" fill="none" stroke="#a3162e" stroke-width="1.6"/>
<path d="M664.5 599.1 L658.5 594.5 L663.8 591.6Z" fill="#a3162e"/>
<path d="M672.0 603.4 Q684.1 596.2 685.4 572.0" fill="none" stroke="#a3162e" stroke-width="1.6"/>
<path d="M685.5 570.0 L688.1 577.1 L682.1 576.8Z" fill="#a3162e"/>
<path d="M481 916 H681 L729 984 H432Z" fill="url(#grid)"/>
<path d="M481 916 H681 L729 984 H432Z" fill="url(#m1glow)"/>
<rect x="432" y="984" width="297" height="13" fill="#a9a9a9"/>
<g filter="url(#blur1)">
<ellipse cx="501.25" cy="927.25" rx="5.699999999999999" ry="3.8" fill="#d8aeb4" fill-opacity="0.6"/>
<path d="M496.5 919.65 L500.3 916.8 L506.0 918.7 L506.0 926.3 L501.25 928.2 L496.5 925.35Z" fill="#54323a" fill-opacity="0.92"/>
<ellipse cx="520" cy="936.6" rx="6.419999999999999" ry="4.279999999999999" fill="#d8aeb4" fill-opacity="0.6"/>
<path d="M514.65 928.04 L518.93 924.83 L525.35 926.97 L525.35 935.53 L520 937.67 L514.65 934.46Z" fill="#54323a" fill-opacity="0.92"/>
<ellipse cx="555" cy="930.95" rx="7.14" ry="4.76" fill="#d8aeb4" fill-opacity="0.6"/>
<path d="M549.05 921.43 L553.81 917.86 L560.95 920.24 L560.95 929.76 L555 932.14 L549.05 928.57Z" fill="#54323a" fill-opacity="0.92"/>
<ellipse cx="590" cy="928.5" rx="5.699999999999999" ry="3.8" fill="#d8aeb4" fill-opacity="0.6"/>
<path d="M585.25 920.9 L589.05 918.05 L594.75 919.95 L594.75 927.55 L590 929.45 L585.25 926.6Z" fill="#54323a" fill-opacity="0.92"/>
<ellipse cx="615" cy="937.85" rx="6.419999999999999" ry="4.279999999999999" fill="#d8aeb4" fill-opacity="0.6"/>
<path d="M609.65 929.29 L613.93 926.08 L620.35 928.22 L620.35 936.78 L615 938.92 L609.65 935.71Z" fill="#54323a" fill-opacity="0.92"/>
<ellipse cx="631.25" cy="934.7" rx="7.14" ry="4.76" fill="#d8aeb4" fill-opacity="0.6"/>
<path d="M625.3 925.18 L630.06 921.61 L637.2 923.99 L637.2 933.51 L631.25 935.89 L625.3 932.32Z" fill="#54323a" fill-opacity="0.92"/>
<ellipse cx="655" cy="938.5" rx="5.699999999999999" ry="3.8" fill="#d8aeb4" fill-opacity="0.6"/>
<path d="M650.25 930.9 L654.05 928.05 L659.75 929.95 L659.75 937.55 L655 939.45 L650.25 936.6Z" fill="#54323a" fill-opacity="0.92"/>
<ellipse cx="675" cy="932.85" rx="6.419999999999999" ry="4.279999999999999" fill="#d8aeb4" fill-opacity="0.6"/>
<path d="M669.65 924.29 L673.93 921.08 L680.35 923.22 L680.35 931.78 L675 933.92 L669.65 930.71Z" fill="#54323a" fill-opacity="0.92"/>
<ellipse cx="485" cy="945.95" rx="7.14" ry="4.76" fill="#d8aeb4" fill-opacity="0.6"/>
<path d="M479.05 936.43 L483.81 932.86 L490.95 935.24 L490.95 944.76 L485 947.14 L479.05 943.57Z" fill="#54323a" fill-opacity="0.92"/>
<ellipse cx="550" cy="943.5" rx="5.699999999999999" ry="3.8" fill="#d8aeb4" fill-opacity="0.6"/>
<path d="M545.25 935.9 L549.05 933.05 L554.75 934.95 L554.75 942.55 L550 944.45 L545.25 941.6Z" fill="#54323a" fill-opacity="0.92"/>
<ellipse cx="585" cy="945.35" rx="6.419999999999999" ry="4.279999999999999" fill="#d8aeb4" fill-opacity="0.6"/>
<path d="M579.65 936.79 L583.93 933.58 L590.35 935.72 L590.35 944.28 L585 946.42 L579.65 943.21Z" fill="#54323a" fill-opacity="0.92"/>
<ellipse cx="502.5" cy="954.7" rx="7.14" ry="4.76" fill="#d8aeb4" fill-opacity="0.6"/>
<path d="M496.55 945.18 L501.31 941.61 L508.45 943.99 L508.45 953.51 L502.5 955.89 L496.55 952.32Z" fill="#54323a" fill-opacity="0.92"/>
<ellipse cx="527.5" cy="959.75" rx="5.699999999999999" ry="3.8" fill="#d8aeb4" fill-opacity="0.6"/>
<path d="M522.75 952.15 L526.55 949.3 L532.25 951.2 L532.25 958.8 L527.5 960.7 L522.75 957.85Z" fill="#54323a" fill-opacity="0.92"/>
<ellipse cx="560" cy="957.85" rx="6.419999999999999" ry="4.279999999999999" fill="#d8aeb4" fill-opacity="0.6"/>
<path d="M554.65 949.29 L558.93 946.08 L565.35 948.22 L565.35 956.78 L560 958.92 L554.65 955.71Z" fill="#54323a" fill-opacity="0.92"/>
<ellipse cx="595" cy="964.7" rx="7.14" ry="4.76" fill="#d8aeb4" fill-opacity="0.6"/>
<path d="M589.05 955.18 L593.81 951.61 L600.95 953.99 L600.95 963.51 L595 965.89 L589.05 962.32Z" fill="#54323a" fill-opacity="0.92"/>
<ellipse cx="616.25" cy="963.5" rx="5.699999999999999" ry="3.8" fill="#d8aeb4" fill-opacity="0.6"/>
<path d="M611.5 955.9 L615.3 953.05 L621.0 954.95 L621.0 962.55 L616.25 964.45 L611.5 961.6Z" fill="#54323a" fill-opacity="0.92"/>
<ellipse cx="637.5" cy="956.6" rx="6.419999999999999" ry="4.279999999999999" fill="#d8aeb4" fill-opacity="0.6"/>
<path d="M632.15 948.04 L636.43 944.83 L642.85 946.97 L642.85 955.53 L637.5 957.67 L632.15 954.46Z" fill="#54323a" fill-opacity="0.92"/>
<ellipse cx="670" cy="959.7" rx="7.14" ry="4.76" fill="#d8aeb4" fill-opacity="0.6"/>
<path d="M664.05 950.18 L668.81 946.61 L675.95 948.99 L675.95 958.51 L670 960.89 L664.05 957.32Z" fill="#54323a" fill-opacity="0.92"/>
<ellipse cx="683.75" cy="951.0" rx="5.699999999999999" ry="3.8" fill="#d8aeb4" fill-opacity="0.6"/>
<path d="M679.0 943.4 L682.8 940.55 L688.5 942.45 L688.5 950.05 L683.75 951.95 L679.0 949.1Z" fill="#54323a" fill-opacity="0.92"/>
<ellipse cx="476.25" cy="971.6" rx="6.419999999999999" ry="4.279999999999999" fill="#d8aeb4" fill-opacity="0.6"/>
<path d="M470.9 963.04 L475.18 959.83 L481.6 961.97 L481.6 970.53 L476.25 972.67 L470.9 969.46Z" fill="#54323a" fill-opacity="0.92"/>
<ellipse cx="503.75" cy="974.7" rx="7.14" ry="4.76" fill="#d8aeb4" fill-opacity="0.6"/>
<path d="M497.8 965.18 L502.56 961.61 L509.7 963.99 L509.7 973.51 L503.75 975.89 L497.8 972.32Z" fill="#54323a" fill-opacity="0.92"/>
<ellipse cx="542.5" cy="974.75" rx="5.699999999999999" ry="3.8" fill="#d8aeb4" fill-opacity="0.6"/>
<path d="M537.75 967.15 L541.55 964.3 L547.25 966.2 L547.25 973.8 L542.5 975.7 L537.75 972.85Z" fill="#54323a" fill-opacity="0.92"/>
<ellipse cx="575" cy="970.35" rx="6.419999999999999" ry="4.279999999999999" fill="#d8aeb4" fill-opacity="0.6"/>
<path d="M569.65 961.79 L573.93 958.58 L580.35 960.72 L580.35 969.28 L575 971.42 L569.65 968.21Z" fill="#54323a" fill-opacity="0.92"/>
<ellipse cx="630" cy="978.45" rx="7.14" ry="4.76" fill="#d8aeb4" fill-opacity="0.6"/>
<path d="M624.05 968.93 L628.81 965.36 L635.95 967.74 L635.95 977.26 L630 979.64 L624.05 976.07Z" fill="#54323a" fill-opacity="0.92"/>
<ellipse cx="657.5" cy="973.5" rx="5.699999999999999" ry="3.8" fill="#d8aeb4" fill-opacity="0.6"/>
<path d="M652.75 965.9 L656.55 963.05 L662.25 964.95 L662.25 972.55 L657.5 974.45 L652.75 971.6Z" fill="#54323a" fill-opacity="0.92"/>
<ellipse cx="685" cy="970.35" rx="6.419999999999999" ry="4.279999999999999" fill="#d8aeb4" fill-opacity="0.6"/>
<path d="M679.65 961.79 L683.93 958.58 L690.35 960.72 L690.35 969.28 L685 971.42 L679.65 968.21Z" fill="#54323a" fill-opacity="0.92"/>
<ellipse cx="705" cy="977.2" rx="7.14" ry="4.76" fill="#d8aeb4" fill-opacity="0.6"/>
<path d="M699.05 967.68 L703.81 964.11 L710.95 966.49 L710.95 976.01 L705 978.39 L699.05 974.82Z" fill="#54323a" fill-opacity="0.92"/>
</g>
<g stroke="#000" stroke-width="3.2">
<line x1="705" y1="240" x2="877.5" y2="188.5"/>
<line x1="703" y1="414" x2="858.5" y2="262.5"/>
<line x1="698" y1="584" x2="829" y2="547.5"/>
<line x1="690" y1="818" x2="864" y2="936.5"/>
<line x1="708" y1="954" x2="877.5" y2="1007.5"/>
</g>
<g fill="#000">
<circle cx="877.5" cy="188.5" r="7"/>
<circle cx="858.5" cy="262.5" r="7"/>
<circle cx="829" cy="547.5" r="7"/>
<circle cx="864" cy="936.5" r="7"/>
<circle cx="877.5" cy="1007.5" r="7"/>
</g>
<!-- ===== LEGEND ===== -->
<defs>
<radialGradient id="lMg" cx="0.4" cy="0.35" r="0.7"><stop offset="0" stop-color="#eca0a8"/><stop offset="0.5" stop-color="#c04b58"/><stop offset="1" stop-color="#7e2232"/></radialGradient>
<radialGradient id="lCl" cx="0.4" cy="0.35" r="0.7"><stop offset="0" stop-color="#9ee3d8"/><stop offset="0.5" stop-color="#36a89b"/><stop offset="1" stop-color="#146a60"/></radialGradient>
</defs>
<g fill="#7b5846">
<path d="M28 1212 L36 1209.5 L43 1211 L41 1217 L33 1218 L27 1216Z"/>
<path d="M55 1214 L62 1211.5 L68 1214 L66 1219.5 L58 1220.5 L54 1218Z"/>
<path d="M23.5 1228 L30 1225 L36 1229 L35 1234 L27 1233Z"/>
<path d="M38 1225.5 L45 1223.5 L50 1227 L47 1231.5 L40 1231Z"/>
<path d="M52 1231 L60 1228.5 L67.5 1231.5 L66 1239 L58 1242 L53 1238Z"/>
</g>
<g class="hd" font-size="17" font-weight="bold">
<text x="79.5" y="1231" textLength="82.5" lengthAdjust="spacingAndGlyphs">Particules</text>
<text x="275" y="1231" textLength="135" lengthAdjust="spacingAndGlyphs">Odeur et saveur</text>
<text x="275" y="1251" textLength="97.5" lengthAdjust="spacingAndGlyphs">déplaisante</text>
<text x="480" y="1231" textLength="68.5" lengthAdjust="spacingAndGlyphs">Calcium</text>
<text x="685" y="1231" textLength="95" lengthAdjust="spacingAndGlyphs">Magnésium</text>
<text x="888.5" y="1231" textLength="71" lengthAdjust="spacingAndGlyphs">Matières</text>
<text x="888.5" y="1251" textLength="94" lengthAdjust="spacingAndGlyphs">organiques</text>
<text x="1095" y="1231" textLength="56" lengthAdjust="spacingAndGlyphs">Chlore</text>
</g>
<circle cx="251" cy="1225" r="11.7" fill="url(#sPur)"/>
<circle cx="457" cy="1225" r="11.7" fill="url(#sTan)"/>
<circle cx="662.5" cy="1225" r="11.7" fill="url(#lMg)"/>
<circle cx="867.5" cy="1225" r="11.7" fill="url(#sGold)"/>
<circle cx="1072" cy="1225" r="11.7" fill="url(#lCl)"/>

</svg>
</body></html>
